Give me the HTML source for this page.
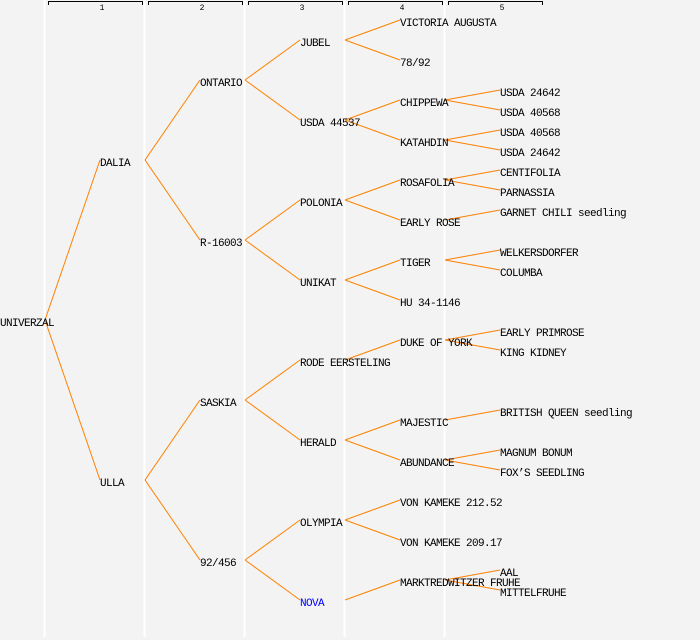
<!DOCTYPE html>
<html><head><meta charset="utf-8"><style>
html,body{margin:0;padding:0;background:#f3f3f3;}
svg{display:block;}
text{font-family:"Liberation Mono","DejaVu Sans Mono",monospace;font-size:11px;letter-spacing:-0.6px;fill:#000;}
</style></head><body>
<svg width="700" height="640" viewBox="0 0 700 640" xmlns="http://www.w3.org/2000/svg">
<rect width="700" height="640" fill="#f3f3f3"/>
<g stroke="#ffffff" stroke-width="2">
<line x1="44.5" y1="0" x2="44.5" y2="637"/>
<line x1="144.5" y1="0" x2="144.5" y2="637"/>
<line x1="244.5" y1="0" x2="244.5" y2="637"/>
<line x1="344.5" y1="0" x2="344.5" y2="637"/>
<line x1="444.5" y1="0" x2="444.5" y2="637"/>
</g>
<g stroke="#000" stroke-width="1" fill="none">
<path d="M48.5 5V1.5H142.5V5"/>
<path d="M148.5 5V1.5H242.5V5"/>
<path d="M248.5 5V1.5H342.5V5"/>
<path d="M348.5 5V1.5H442.5V5"/>
<path d="M448.5 5V1.5H542.5V5"/>
</g>
<g text-anchor="middle">
<text x="102" y="10" style="font-size:8px;letter-spacing:0">1</text>
<text x="202" y="10" style="font-size:8px;letter-spacing:0">2</text>
<text x="302" y="10" style="font-size:8px;letter-spacing:0">3</text>
<text x="402" y="10" style="font-size:8px;letter-spacing:0">4</text>
<text x="502" y="10" style="font-size:8px;letter-spacing:0">5</text>
</g>
<g stroke="#ff8000" stroke-width="1" fill="none">
<line x1="45" y1="320" x2="100" y2="160"/><line x1="45" y1="320" x2="100" y2="480"/>
<line x1="145" y1="160" x2="200" y2="80"/><line x1="145" y1="160" x2="200" y2="240"/>
<line x1="145" y1="480" x2="200" y2="400"/><line x1="145" y1="480" x2="200" y2="560"/>
<line x1="245" y1="80" x2="300" y2="40"/><line x1="245" y1="80" x2="300" y2="120"/>
<line x1="245" y1="240" x2="300" y2="200"/><line x1="245" y1="240" x2="300" y2="280"/>
<line x1="245" y1="400" x2="300" y2="360"/><line x1="245" y1="400" x2="300" y2="440"/>
<line x1="245" y1="560" x2="300" y2="520"/><line x1="245" y1="560" x2="300" y2="600"/>
<line x1="345" y1="40" x2="400" y2="20"/><line x1="345" y1="40" x2="400" y2="60"/>
<line x1="345" y1="120" x2="400" y2="100"/><line x1="345" y1="120" x2="400" y2="140"/>
<line x1="345" y1="200" x2="400" y2="180"/><line x1="345" y1="200" x2="400" y2="220"/>
<line x1="345" y1="280" x2="400" y2="260"/><line x1="345" y1="280" x2="400" y2="300"/>
<line x1="345" y1="360" x2="400" y2="340"/>
<line x1="345" y1="440" x2="400" y2="420"/><line x1="345" y1="440" x2="400" y2="460"/>
<line x1="345" y1="520" x2="400" y2="500"/><line x1="345" y1="520" x2="400" y2="540"/>
<line x1="345" y1="600" x2="400" y2="580"/>
<line x1="445" y1="100" x2="500" y2="90"/><line x1="445" y1="100" x2="500" y2="110"/>
<line x1="445" y1="140" x2="500" y2="130"/><line x1="445" y1="140" x2="500" y2="150"/>
<line x1="445" y1="180" x2="500" y2="170"/><line x1="445" y1="180" x2="500" y2="190"/>
<line x1="445" y1="220" x2="500" y2="210"/>
<line x1="445" y1="260" x2="500" y2="250"/><line x1="445" y1="260" x2="500" y2="270"/>
<line x1="445" y1="340" x2="500" y2="330"/><line x1="445" y1="340" x2="500" y2="350"/>
<line x1="445" y1="420" x2="500" y2="410"/>
<line x1="445" y1="460" x2="500" y2="450"/><line x1="445" y1="460" x2="500" y2="470"/>
<line x1="445" y1="580" x2="500" y2="570"/><line x1="445" y1="580" x2="500" y2="590"/>
</g>
<g>
<text x="0" y="326">UNIVERZAL</text>
<text x="100" y="166">DALIA</text>
<text x="100" y="486">ULLA</text>
<text x="200" y="86">ONTARIO</text>
<text x="200" y="246">R-16003</text>
<text x="200" y="406">SASKIA</text>
<text x="200" y="566">92/456</text>
<text x="300" y="46">JUBEL</text>
<text x="300" y="126">USDA 44537</text>
<text x="300" y="206">POLONIA</text>
<text x="300" y="286">UNIKAT</text>
<text x="300" y="366">RODE EERSTELING</text>
<text x="300" y="446">HERALD</text>
<text x="300" y="526">OLYMPIA</text>
<text x="300" y="606" style="fill:#0000ff">NOVA</text>
<text x="400" y="26">VICTORIA AUGUSTA</text>
<text x="400" y="66">78/92</text>
<text x="400" y="106">CHIPPEWA</text>
<text x="400" y="146">KATAHDIN</text>
<text x="400" y="186">ROSAFOLIA</text>
<text x="400" y="226">EARLY ROSE</text>
<text x="400" y="266">TIGER</text>
<text x="400" y="306">HU 34-1146</text>
<text x="400" y="346">DUKE OF YORK</text>
<text x="400" y="426">MAJESTIC</text>
<text x="400" y="466">ABUNDANCE</text>
<text x="400" y="506">VON KAMEKE 212.52</text>
<text x="400" y="546">VON KAMEKE 209.17</text>
<text x="400" y="586">MARKTREDWITZER FRUHE</text>
<text x="500" y="96">USDA 24642</text>
<text x="500" y="116">USDA 40568</text>
<text x="500" y="136">USDA 40568</text>
<text x="500" y="156">USDA 24642</text>
<text x="500" y="176">CENTIFOLIA</text>
<text x="500" y="196">PARNASSIA</text>
<text x="500" y="216">GARNET CHILI seedling</text>
<text x="500" y="256">WELKERSDORFER</text>
<text x="500" y="276">COLUMBA</text>
<text x="500" y="336">EARLY PRIMROSE</text>
<text x="500" y="356">KING KIDNEY</text>
<text x="500" y="416">BRITISH QUEEN seedling</text>
<text x="500" y="456">MAGNUM BONUM</text>
<text x="500" y="476">FOX’S SEEDLING</text>
<text x="500" y="576">AAL</text>
<text x="500" y="596">MITTELFRUHE</text>
</g>
</svg>
</body></html>
